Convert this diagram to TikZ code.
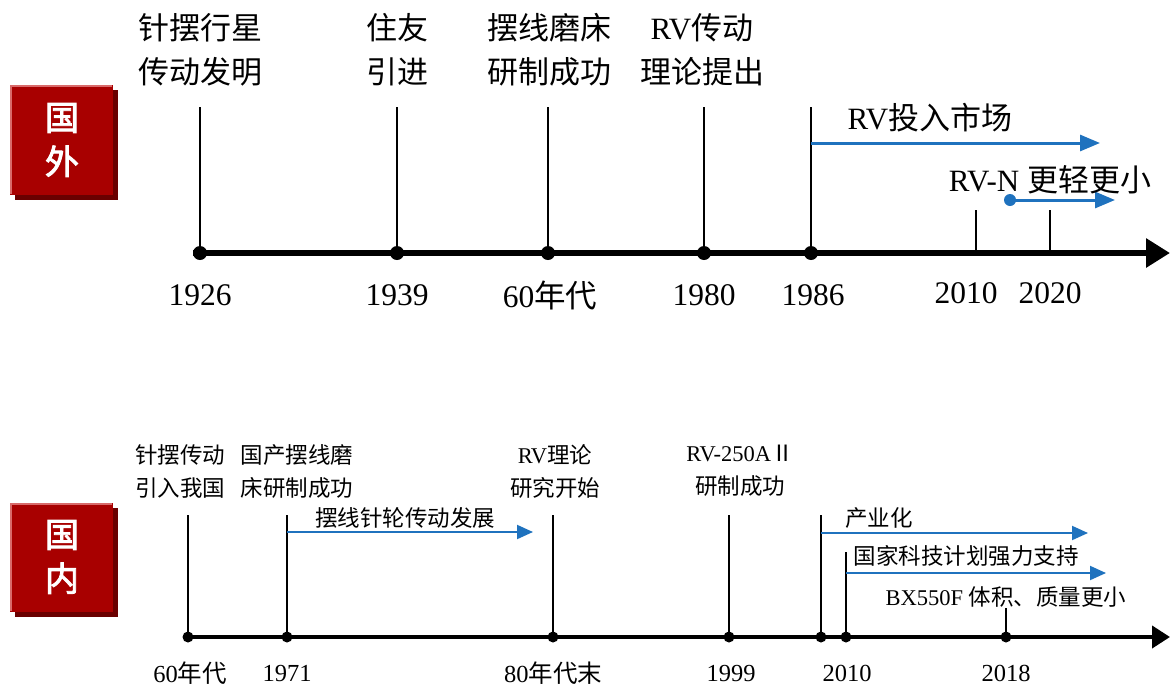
\documentclass[tikz,border=0pt]{standalone}
\usepackage{fontspec}
\setmainfont{Liberation Serif}
\newfontfamily\cjk{Noto Sans CJK SC}
\newfontfamily\cjkb[FakeBold=2.5]{Noto Sans CJK SC}
\usetikzlibrary{arrows.meta}
\definecolor{boxred}{HTML}{A80000}
\definecolor{boxshadow}{HTML}{6A0000}
\definecolor{boxlight}{HTML}{D86A6A}
\definecolor{tlblue}{HTML}{1F72BE}
\newcommand\zh[1]{{\cjk #1}}
\begin{document}
\begin{tikzpicture}[x=1pt,y=-1pt,
  bigtxt/.style={font=\fontsize{31}{44}\selectfont, align=center, inner sep=0pt},
  bigyear/.style={font=\fontsize{31.5}{34}\selectfont, inner sep=0pt},
  smtxt/.style={font=\fontsize{22.5}{33}\selectfont, align=center, inner sep=0pt},
  smyear/.style={font=\fontsize{24.5}{28}\selectfont, inner sep=0pt},
  bigdot/.style={circle, fill=black, inner sep=0pt, minimum size=14pt},
  smdot/.style={circle, fill=black, inner sep=0pt, minimum size=11pt},
  bigaxis/.style={line width=6pt, -{Triangle[length=24pt,width=28pt]}},
  smaxis/.style={line width=4pt, -{Triangle[length=18pt,width=22pt]}},
  bigtick/.style={line width=2.5pt},
  smtick/.style={line width=2pt},
  bigblue/.style={tlblue, line width=3pt, -{Triangle[length=20pt,width=16pt]}},
  smblue/.style={tlblue, line width=2pt, -{Triangle[length=16pt,width=14pt]}},
  boxtxt/.style={font=\fontsize{34}{44}\selectfont\cjkb, text=white, align=center, inner sep=0pt}
]
\useasboundingbox (0,0) rectangle (1170,686);
\fill[white] (0,0) rectangle (1170,686);

% ---------- red boxes ----------
\fill[boxshadow] (15,90) rectangle (118,200);
\fill[boxred] (10,85) rectangle (113,195);
\draw[boxlight, line width=2pt] (11,194) -- (11,86) -- (112,86);
\node[boxtxt] (guowai) at (62,140) {国\\外};

\fill[boxshadow] (15,508) rectangle (118,617);
\fill[boxred] (10,503) rectangle (113,612);
\draw[boxlight, line width=2pt] (11,611) -- (11,504) -- (112,504);
\node[boxtxt] (guonei) at (62,557) {国\\内};

% ---------- top timeline ----------
\coordinate (ta0) at (193,253);
\coordinate (ta1) at (1170,253);
\draw[bigaxis] (ta0) -- (ta1);

\node[bigdot] (d1926) at (200,253) {};
\node[bigdot] (d1939) at (397,253) {};
\node[bigdot] (d60) at (548,253) {};
\node[bigdot] (d1980) at (704,253) {};
\node[bigdot] (d1986) at (811,253) {};
\coordinate (p2010) at (976,253);
\coordinate (p2020) at (1050,253);

\coordinate (t1926) at (200,107);
\coordinate (t1939) at (397,107);
\coordinate (t60) at (548,107);
\coordinate (t1980) at (704,107);
\coordinate (t1986) at (811,107);
\coordinate (t2010) at (976,210);
\coordinate (t2020) at (1050,210);
\draw[bigtick] (d1926.center) -- (t1926);
\draw[bigtick] (d1939.center) -- (t1939);
\draw[bigtick] (d60.center) -- (t60);
\draw[bigtick] (d1980.center) -- (t1980);
\draw[bigtick] (d1986.center) -- (t1986);
\draw[bigtick] (p2010) -- (t2010);
\draw[bigtick] (p2020) -- (t2020);

\node[bigtxt] (l1926) at (200,50) {\zh{针摆行星}\\\zh{传动发明}};
\node[bigtxt] (l1939) at (397,50) {\zh{住友}\\\zh{引进}};
\node[bigtxt] (l60) at (549,50) {\zh{摆线磨床}\\\zh{研制成功}};
\node[bigtxt] (l1980) at (702,50) {RV\zh{传动}\\\zh{理论提出}};

\node[bigyear] (y1926) at (200,295) {1926};
\node[bigyear] (y1939) at (397,295) {1939};
\node[bigyear] (y60) at (550,295) {60\zh{年代}};
\node[bigyear] (y1980) at (704,295) {1980};
\node[bigyear] (y1986) at (813,295) {1986};
\node[bigyear] (y2010) at (966,293) {2010};
\node[bigyear] (y2020) at (1050,293) {2020};

\coordinate (m0) at (811,143);
\coordinate (m1) at (1100,143);
\draw[bigblue] (m0) -- (m1);
\node[bigtxt] (market) at (930,118) {RV\zh{投入市场}};

\node[circle, fill=tlblue, inner sep=0pt, minimum size=12pt] (rvn0) at (1010,200) {};
\coordinate (rvn1) at (1115,200);
\draw[bigblue] (rvn0.center) -- (rvn1);
\node[bigtxt] (rvn) at (1050,180) {RV-N \zh{更轻更小}};

% ---------- bottom timeline ----------
\coordinate (ba0) at (183,637);
\coordinate (ba1) at (1170,637);
\draw[smaxis] (ba0) -- (ba1);

\node[smdot] (e60) at (188,637) {};
\node[smdot] (e1971) at (287,637) {};
\node[smdot] (e80) at (553,637) {};
\node[smdot] (e1999) at (729,637) {};
\node[smdot] (e2009) at (821,637) {};
\node[smdot] (e2010) at (846,637) {};
\node[smdot] (e2018) at (1006,637) {};

\coordinate (u60) at (188,515);
\coordinate (u1971) at (287,515);
\coordinate (u80) at (553,515);
\coordinate (u1999) at (729,515);
\coordinate (u2009) at (821,515);
\coordinate (u2010) at (846,552);
\coordinate (u2018) at (1006,608);
\draw[smtick] (e60.center) -- (u60);
\draw[smtick] (e1971.center) -- (u1971);
\draw[smtick] (e80.center) -- (u80);
\draw[smtick] (e1999.center) -- (u1999);
\draw[smtick] (e2009.center) -- (u2009);
\draw[smtick] (e2010.center) -- (u2010);
\draw[smtick] (e2018.center) -- (u2018);

\node[smtxt] (k60) at (180,471) {\zh{针摆传动}\\\zh{引入我国}};
\node[smtxt] (k1971) at (297,471) {\zh{国产摆线磨}\\\zh{床研制成功}};
\node[smtxt] (k80) at (555,471) {RV\zh{理论}\\\zh{研究开始}};
\node[smtxt] (k1999) at (740,471) {RV-250A\zh{Ⅱ}\\\zh{研制成功}};

\node[smyear] (z60) at (190,673) {60\zh{年代}};
\node[smyear] (z1971) at (287,673) {1971};
\node[smyear] (z80) at (553,673) {80\zh{年代末}};
\node[smyear] (z1999) at (731,673) {1999};
\node[smyear] (z2010) at (847,673) {2010};
\node[smyear] (z2018) at (1006,673) {2018};

\coordinate (bx0) at (287,532);
\coordinate (bx1) at (533,532);
\draw[smblue] (bx0) -- (bx1);
\node[smtxt] (bxdev) at (405,518) {\zh{摆线针轮传动发展}};

\coordinate (cy0) at (821,533);
\coordinate (cy1) at (1088,533);
\draw[smblue] (cy0) -- (cy1);
\node[smtxt] (cyh) at (879,518) {\zh{产业化}};

\coordinate (gj0) at (846,573);
\coordinate (gj1) at (1106,573);
\draw[smblue] (gj0) -- (gj1);
\node[smtxt] (gjkj) at (966,556) {\zh{国家科技计划强力支持}};

\node[smtxt] (bx550) at (1006,597) {BX550F \zh{体积、质量更小}};
\end{tikzpicture}
\end{document}
